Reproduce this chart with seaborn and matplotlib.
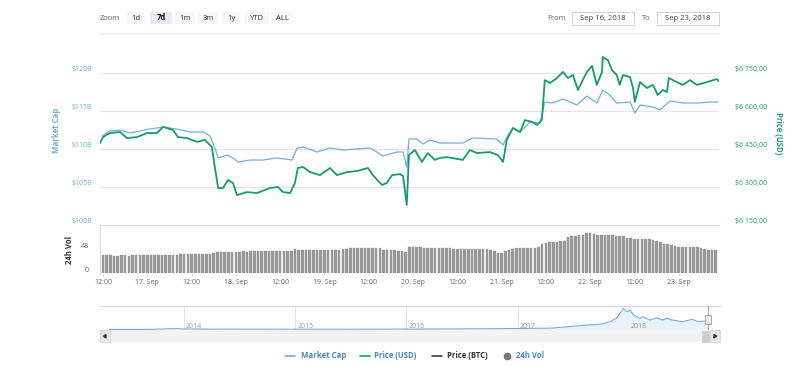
import numpy as np
import pandas as pd
import matplotlib
matplotlib.use("Agg")
import matplotlib.pyplot as plt
from matplotlib.patches import Rectangle, Circle, Polygon
from matplotlib.lines import Line2D
import seaborn as sns

# ---------------- data ----------------
# hours since 2018-09-16 00:00
cap_hours = [11.7,13.9,16.6,19.3,24.7,28.3,32.0,35.6,39.1,41.0,42.3,43.2,45.6,47.2,48.6,51.8,55.3,59.1,63.2,64.6,66.2,70.0,73.5,77.0,80.8,84.3,86.2,87.8,91.6,93.3,94.3,94.9,97.1,98.7,100.6,103.3,109.5,112.0,118.7,120.4,121.7,123.1,125.0,127.7,130.4,131.7,133.9,136.6,140.4,143.1,145.8,147.4,149.3,151.2,154.8,156.1,157.5,161.0,162.9,165.6,169.1,172.9,176.4,178.6]
market_cap_b = [111.71,112.37,112.50,112.11,112.63,112.89,112.63,112.24,112.24,111.71,110.13,108.82,109.21,108.82,108.29,108.55,108.55,108.82,108.55,110.13,110.26,109.61,110.13,109.87,110.00,110.13,109.61,109.08,109.61,109.61,107.63,111.32,111.32,110.66,111.18,110.79,110.79,111.45,111.32,110.53,111.84,112.76,112.24,113.55,113.42,116.18,116.05,116.58,115.79,116.97,116.05,117.76,117.11,116.05,116.18,114.74,115.79,115.53,115.13,116.32,116.05,116.05,116.18,116.18]

price_hours = [11.2,12.0,13.9,16.6,18.5,21.2,23.9,26.6,28.3,31.0,32.3,34.8,37.5,39.6,41.5,42.3,43.2,44.5,45.9,47.2,48.3,51.0,53.7,57.2,59.4,60.8,62.7,64.0,64.8,66.2,68.1,70.8,73.5,75.4,78.1,80.8,83.8,85.1,87.6,88.9,90.3,92.5,93.3,94.3,94.9,96.5,98.4,100.0,101.9,103.3,105.2,109.5,111.4,113.3,116.8,119.0,120.4,121.4,123.1,125.0,126.3,128.2,129.6,130.9,131.7,133.1,135.0,136.6,138.0,139.3,140.7,142.0,143.1,144.5,145.8,147.2,147.4,148.8,149.9,151.2,152.0,152.9,154.8,155.6,156.1,157.5,159.4,161.0,162.3,163.7,164.8,165.3,167.5,169.1,171.0,172.9,175.6,178.3,178.9]
price_usd = [6474,6497,6513,6517,6493,6497,6513,6513,6537,6525,6497,6493,6478,6486,6458,6379,6296,6296,6328,6316,6268,6280,6276,6296,6300,6280,6276,6316,6375,6379,6359,6347,6375,6347,6359,6363,6375,6347,6308,6316,6347,6351,6343,6229,6426,6446,6399,6434,6407,6415,6418,6407,6446,6434,6438,6426,6399,6486,6533,6517,6564,6557,6545,6564,6722,6711,6730,6754,6730,6742,6683,6722,6754,6778,6703,6754,6813,6801,6762,6742,6703,6742,6734,6691,6636,6714,6691,6703,6663,6683,6675,6730,6714,6703,6722,6703,6714,6726,6718]

vol_hours = list(range(12, 179))
vol_24h = [35,35,35,34,34,35,35,34,35,35,36,
           36,36,36,36,36,36,36,35,36,36,
           37,37,37,37,37,37,37,37,38,
           40,
           42,42,42,42,42,42,42,43,42,
           43,43,43,43,43,43,43,43,43,43,43,44,
           47,
           45,45,45,45,45,46,46,46,46,46,46,46,47,
           47,
           49,49,49,49,49,49,49,49,48,
           46,46,45,45,44,43,
           42,
           50,51,51,50,
           49,49,49,48,48,48,48,48,
           47,47,47,47,47,47,47,47,47,47,46,
           43,39,39,43,
           46,47,48,48,48,49,49,49,50,
           57,59,60,61,61,62,63,
           70,72,73,74,75,
           78,79,77,
           75,75,74,74,74,73,73,72,
           68,68,67,67,67,66,66,64,
           62,60,
           57,56,55,
           52,51,51,50,50,50,50,49,
           47,46,46,45]

nav_years = [2013.33,2013.69,2013.90,2014.0,2014.32,2015.0,2015.49,2016.0,2016.57,2017.0,2017.29,2017.44,2017.62,2017.74,2017.83,2017.89,2017.94,2017.95,2017.98,2018.01,2018.04,2018.10,2018.12,2018.19,2018.25,2018.30,2018.34,2018.39,2018.48,2018.57,2018.62,2018.70]
nav_cap_b = [1.5,1.5,13,9,6,4,3.5,6.5,10,15,20,40,68,78,118,174,294,320,269,294,219,169,193,143,178,143,169,143,118,154,118,128]

cap_ticks = [100, 105, 110, 115, 120]
cap_labels = ["$100B", "$105B", "$110B", "$115B", "$120B"]
price_ticks = [6150, 6300, 6450, 6600, 6750]
price_labels = ["$6 150,00", "$6 300,00", "$6 450,00", "$6 600,00", "$6 750,00"]
vol_ticks = [0, 48]
x_tick_hours = [12, 24, 36, 48, 60, 72, 84, 96, 108, 120, 132, 144, 156, 168]
x_tick_labels = ["12:00", "17. Sep", "12:00", "18. Sep", "12:00", "19. Sep", "12:00",
                 "20. Sep", "12:00", "21. Sep", "12:00", "22. Sep", "12:00", "23. Sep"]
nav_year_ticks = [2014, 2015, 2016, 2017, 2018]
zoom_buttons = ["1d", "7d", "1m", "3m", "1y", "YTD", "ALL"]
legend_names = ["Market Cap", "Price (USD)", "Price (BTC)", "24h Vol"]

# ---------------- style ----------------
sns.set_theme(style="white")
FONT = ["Open Sans", "DejaVu Sans"]
plt.rcParams["font.family"] = FONT

BLUE = "#74addf"
GREEN = "#179b6c"
BLUE_TXT = "#6aaee6"
GREEN_TXT = "#1f9e74"
GRID = "#e6e6e6"

W, H = 807, 366
fig = plt.figure(figsize=(W / 100, H / 100), dpi=100)

def fx(x):
    return x / W

def fy(y):
    return 1 - y / H

def box(x0, y0, x1, y1, **kw):
    r = Rectangle((fx(x0), fy(y1)), fx(x1) - fx(x0), fy(y0) - fy(y1),
                  transform=fig.transFigure, **kw)
    fig.add_artist(r)
    return r

XL = (11.19, 178.9)

# ---------------- main panel ----------------
ax = fig.add_axes([fx(100), fy(225), fx(719) - fx(100), fy(50) - fy(225)])
ax.set_xlim(*XL)
ax.set_ylim(100, 123.03)
df_cap = pd.DataFrame({"h": cap_hours, "cap": market_cap_b})
sns.lineplot(data=df_cap, x="h", y="cap", ax=ax, color=BLUE, linewidth=0.9)
ax.set_yticks(cap_ticks[1:])
ax.yaxis.grid(True, color=GRID, linewidth=0.9)
ax.set_xlabel(""); ax.set_ylabel("")
for s in ax.spines.values():
    s.set_visible(False)

ax2 = ax.twinx()
ax2.set_ylim(6150, 6840.8)
df_pr = pd.DataFrame({"h": price_hours, "usd": price_usd})
sns.lineplot(data=df_pr, x="h", y="usd", ax=ax2, color=GREEN, linewidth=1.3)
ax2.set_xlim(*XL)
ax2.set_ylabel(""); ax2.set_xlabel("")
for s in ax2.spines.values():
    s.set_visible(False)
for a in (ax, ax2):
    a.tick_params(left=False, right=False, labelleft=False, labelright=False,
                  bottom=False, labelbottom=False)

# axis labels (positioned like the reference)
for v, lab in zip(cap_ticks, cap_labels):
    ypix = 225 - (v - 100) / 5 * 38 - 4
    fig.text(fx(92), fy(ypix), lab, ha="right", va="center", fontsize=5, color=BLUE_TXT)
for v, lab in zip(price_ticks, price_labels):
    ypix = 225 - (v - 6150) / 150 * 38 - 4
    fig.text(fx(735), fy(ypix), lab, ha="left", va="center", fontsize=5, color=GREEN_TXT)
fig.text(fx(56), fy(130), "Market Cap", rotation=90, ha="center", va="center",
         fontsize=5.6, color=BLUE_TXT, fontweight="bold")
fig.text(fx(778), fy(133), "Price (USD)", rotation=270, ha="center", va="center",
         fontsize=5.6, color=GREEN_TXT, fontweight="bold")

# ---------------- volume panel ----------------
axv = fig.add_axes([fx(100), fy(273), fx(719) - fx(100), fy(225) - fy(273)])
sns.histplot(x=vol_hours, weights=vol_24h, discrete=True, shrink=0.7, ax=axv,
             color="#999999", edgecolor="#8a8a8a", linewidth=0.2, alpha=1.0)
axv.set_xlim(*XL)
axv.set_ylim(0, 94)
axv.set_ylabel(""); axv.set_xlabel("")
axv.set_yticks([])
axv.set_xticks(x_tick_hours)
axv.set_xticklabels(x_tick_labels)
axv.tick_params(axis="x", bottom=True, length=2.5, width=0.6, color="#ccd6eb",
                pad=2, labelsize=5, labelcolor="#666666")
axv.tick_params(axis="y", left=False, labelleft=False)
for k, s in axv.spines.items():
    s.set_visible(k in ("top", "left"))
    s.set_color("#dcdcdc")
    s.set_linewidth(0.8)
for v, ypix in zip(vol_ticks, [270, 247]):
    fig.text(fx(89), fy(ypix), str(v), ha="right", va="center", fontsize=5, color="#666666")
fig.text(fx(70), fy(250), "24h Vol", rotation=90, ha="center", va="center",
         fontsize=5.6, color="#333333", fontweight="bold")

# ---------------- navigator ----------------
axn = fig.add_axes([fx(100), fy(329.5), fx(720) - fx(100), fy(306) - fy(329.5)])
axn.set_xlim(2013.245, 2018.818)
axn.set_ylim(0, 355)
for yr in nav_year_ticks:
    axn.axvline(yr, color=GRID, linewidth=0.8, zorder=0)
axn.fill_between(nav_years, nav_cap_b, 0, color="#e9f2fb", zorder=1, linewidth=0)
sns.lineplot(x=nav_years, y=nav_cap_b, ax=axn, color=BLUE, linewidth=0.8, zorder=2)
axn.set_xticks([]); axn.set_yticks([])
axn.set_xlabel(""); axn.set_ylabel("")
axn.tick_params(left=False, bottom=False)
for k, s in axn.spines.items():
    s.set_visible(k == "top")
    s.set_color("#d8d8d8")
    s.set_linewidth(0.8)
axn.axvline(2018.71, color="#aaaaaa", linewidth=0.8, zorder=3)
for yr in nav_year_ticks:
    xpix = 100 + (yr - 2013.245) / (2018.818 - 2013.245) * 620
    fig.text(fx(xpix + 2), fy(326.5), str(yr), ha="left", va="center", fontsize=5,
             color="#999999")
# handle
box(705, 315, 711, 324, facecolor="#f2f2f2", edgecolor="#999999", linewidth=0.6, zorder=5)

# scrollbar
box(100, 330.5, 720, 342, facecolor="#f2f2f2", edgecolor="none")
box(100, 330.5, 110, 342, facecolor="#e6e6e6", edgecolor="#d0d0d0", linewidth=0.5)
box(710, 330.5, 720, 342, facecolor="#e6e6e6", edgecolor="#d0d0d0", linewidth=0.5)
box(702, 331, 709, 341.5, facecolor="#cccccc", edgecolor="#cccccc", linewidth=0.5)
fig.add_artist(Polygon([(fx(103.5), fy(336.2)), (fx(106), fy(334.5)), (fx(106), fy(338))],
                       closed=True, transform=fig.transFigure, color="#333333"))
fig.add_artist(Polygon([(fx(716.5), fy(336.2)), (fx(714), fy(334.5)), (fx(714), fy(338))],
                       closed=True, transform=fig.transFigure, color="#333333"))

# ---------------- legend ----------------
LEG_Y = 356
leg_items = [
    (285, 301, BLUE, "#4a86c5", "line"),
    (360, 374, GREEN, "#4a86c5", "line"),
    (432, 447, "#444444", "#333333", "line"),
    (507, 516, "#777777", "#4a86c5", "dot"),
]
for (x0, xt, mc, tc, kind), name in zip(leg_items, legend_names):
    if kind == "line":
        fig.add_artist(Line2D([fx(x0), fx(x0 + 10)], [fy(LEG_Y), fy(LEG_Y)],
                              transform=fig.transFigure, color=mc, linewidth=1.2))
    else:
        fig.add_artist(Line2D([fx(x0)], [fy(LEG_Y)], transform=fig.transFigure,
                              marker="o", markersize=4.5, color=mc, linestyle="none"))
    fig.text(fx(xt), fy(LEG_Y), name, ha="left", va="center", fontsize=5.6,
             color=tc, fontweight="bold")

# ---------------- range selector toolbar ----------------
fig.text(fx(100), fy(18), "Zoom", ha="left", va="center", fontsize=5.5, color="#666666")
btn_centers = [136, 161, 185, 208, 231, 257, 282]
btn_widths = [18, 22, 20, 20, 18, 24, 22]
for lab, cx, bw in zip(zoom_buttons, btn_centers, btn_widths):
    sel = lab == "7d"
    box(cx - bw / 2, 11.5, cx + bw / 2, 24, facecolor="#e6ebf5" if sel else "#f7f7f7",
        edgecolor="none")
    fig.text(fx(cx), fy(18), lab, ha="center", va="center", fontsize=5.5,
             color="#000000" if sel else "#333333", fontweight="bold" if sel else "normal")

fig.text(fx(547), fy(18), "From", ha="left", va="center", fontsize=5.5, color="#666666")
box(572, 11.5, 634, 25, facecolor="white", edgecolor="#cccccc", linewidth=0.6)
fig.text(fx(603), fy(18), "Sep 16, 2018", ha="center", va="center", fontsize=5.5, color="#444444")
fig.text(fx(642), fy(18), "To", ha="left", va="center", fontsize=5.5, color="#666666")
box(657, 11.5, 719, 25, facecolor="white", edgecolor="#cccccc", linewidth=0.6)
fig.text(fx(688), fy(18), "Sep 23, 2018", ha="center", va="center", fontsize=5.5, color="#444444")
fig.add_artist(Line2D([fx(100), fx(720)], [fy(33.5), fy(33.5)], transform=fig.transFigure,
                      color="#f0f0f0", linewidth=1.2))

fig.savefig("out.png", dpi=100)
